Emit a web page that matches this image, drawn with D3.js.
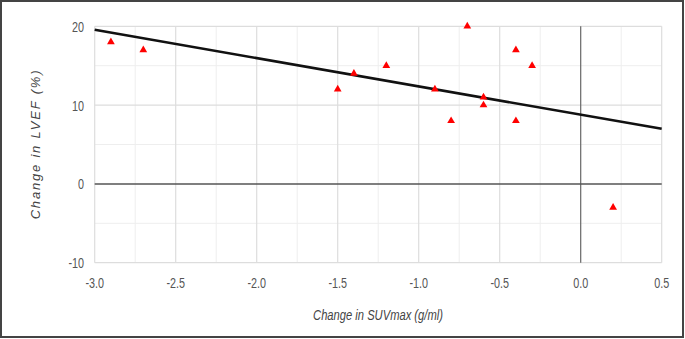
<!DOCTYPE html>
<html><head><meta charset="utf-8">
<script src="https://cdn.jsdelivr.net/npm/d3@7"></script>
<style>
html,body{margin:0;padding:0;background:#fff;}
svg{display:block;}
</style></head>
<body>
<script>
// Data
const suvChange  = [-2.9, -2.7, -1.5, -1.4, -1.2, -0.9, -0.8, -0.7, -0.6, -0.6, -0.4, -0.4, -0.3, 0.2];
const lvefChange = [18, 17, 12, 14, 15, 12, 8, 20, 11, 10, 17, 8, 15, -3];
const xTicks = [-3.0, -2.5, -2.0, -1.5, -1.0, -0.5, 0.0, 0.5];
const yTicks = [-10, 0, 10, 20];
const xMinor = [-2.75, -2.25, -1.75, -1.25, -0.75, -0.25, 0.25];
const yMinor = [-5, 5, 15];
const xTitle = "Change in SUVmax (g/ml)";
const yTitle = "Change in LVEF (%)";

const W = 685, H = 339;
const svg = d3.select("body").append("svg").attr("width", W).attr("height", H);

// outer frame
svg.append("rect").attr("x", 1).attr("y", 1).attr("width", W - 3).attr("height", H - 3)
  .attr("fill", "#fff").attr("stroke", "#444").attr("stroke-width", 2);

const x = d3.scaleLinear().domain([-3, 0.5]).range([94.7, 661.7]);
const y = d3.scaleLinear().domain([-10, 20]).range([262.7, 26.3]);

const g = svg.append("g");

// minor grid
g.selectAll(".xm").data(xMinor).join("line")
  .attr("x1", d => x(d)).attr("x2", d => x(d)).attr("y1", y(20)).attr("y2", y(-10))
  .attr("stroke", "#eeeeee").attr("stroke-width", 1);
g.selectAll(".ym").data(yMinor).join("line")
  .attr("y1", d => y(d)).attr("y2", d => y(d)).attr("x1", x(-3)).attr("x2", x(0.5))
  .attr("stroke", "#eeeeee").attr("stroke-width", 1);
// major grid
g.selectAll(".xg").data(xTicks.filter(d => d !== 0)).join("line")
  .attr("x1", d => x(d)).attr("x2", d => x(d)).attr("y1", y(20)).attr("y2", y(-10))
  .attr("stroke", "#dddddd").attr("stroke-width", 1.2);
g.selectAll(".yg").data(yTicks.filter(d => d !== 0)).join("line")
  .attr("y1", d => y(d)).attr("y2", d => y(d)).attr("x1", x(-3)).attr("x2", x(0.5))
  .attr("stroke", "#dddddd").attr("stroke-width", 1.2);
// zero lines
g.append("line").attr("x1", x(0)).attr("x2", x(0)).attr("y1", y(20)).attr("y2", y(-10))
  .attr("stroke", "#666").attr("stroke-width", 1.2);
g.append("line").attr("y1", y(0)).attr("y2", y(0)).attr("x1", x(-3)).attr("x2", x(0.5))
  .attr("stroke", "#555").attr("stroke-width", 1.5);

// tick labels (condensed look via horizontal scale), plain hyphen minus
const tickFont = "'Liberation Sans', Arial, sans-serif";
const sx = 0.72;
const fmtY = d => d3.format("d")(d).replace("\u2212", "-");
const fmtX = d => d3.format(".1f")(d).replace("\u2212", "-");
g.selectAll(".yt").data(yTicks).join("text")
  .attr("transform", d => `translate(84,${y(d)}) scale(${sx},1)`).attr("dy", "0.36em")
  .attr("text-anchor", "end").attr("font-family", tickFont).attr("font-size", 15)
  .attr("fill", "#555").text(fmtY);
g.selectAll(".xt").data(xTicks).join("text")
  .attr("transform", d => `translate(${x(d)},283) scale(${sx},1)`).attr("dy", "0.36em")
  .attr("text-anchor", "middle").attr("font-family", tickFont).attr("font-size", 15)
  .attr("fill", "#555").text(fmtX);

// regression line computed from data
const mx = d3.mean(suvChange), my = d3.mean(lvefChange);
const sxy = d3.sum(suvChange, (v, i) => (v - mx) * (lvefChange[i] - my));
const sxx = d3.sum(suvChange, v => (v - mx) * (v - mx));
const slope = sxy / sxx, intercept = my - slope * mx;
const dom = x.domain();
g.append("line")
  .attr("x1", x(dom[0])).attr("y1", y(intercept + slope * dom[0]))
  .attr("x2", x(dom[1])).attr("y2", y(intercept + slope * dom[1]))
  .attr("stroke", "#111").attr("stroke-width", 2.6);

// triangle markers
const tri = d3.symbol().type(d3.symbolTriangle).size(26);
g.selectAll(".pt").data(suvChange.map((v, i) => [v, lvefChange[i]])).join("path")
  .attr("transform", d => `translate(${x(d[0])},${y(d[1])})`)
  .attr("d", tri).attr("fill", "#ff0000");

// axis titles
svg.append("text").attr("transform", "translate(378,315) scale(0.8,1)").attr("dy", "0.35em")
  .attr("text-anchor", "middle").attr("font-family", tickFont).attr("font-style", "italic")
  .attr("font-size", 14).attr("fill", "#444").text(xTitle);
svg.append("text").attr("transform", "translate(35,144) rotate(-90)").attr("dy", "0.35em")
  .attr("text-anchor", "middle").attr("font-family", "'Liberation Sans', Arial, sans-serif")
  .attr("font-style", "italic").attr("font-size", 13).attr("letter-spacing", 1.8)
  .attr("fill", "#444").text(yTitle);
</script>
</body></html>
